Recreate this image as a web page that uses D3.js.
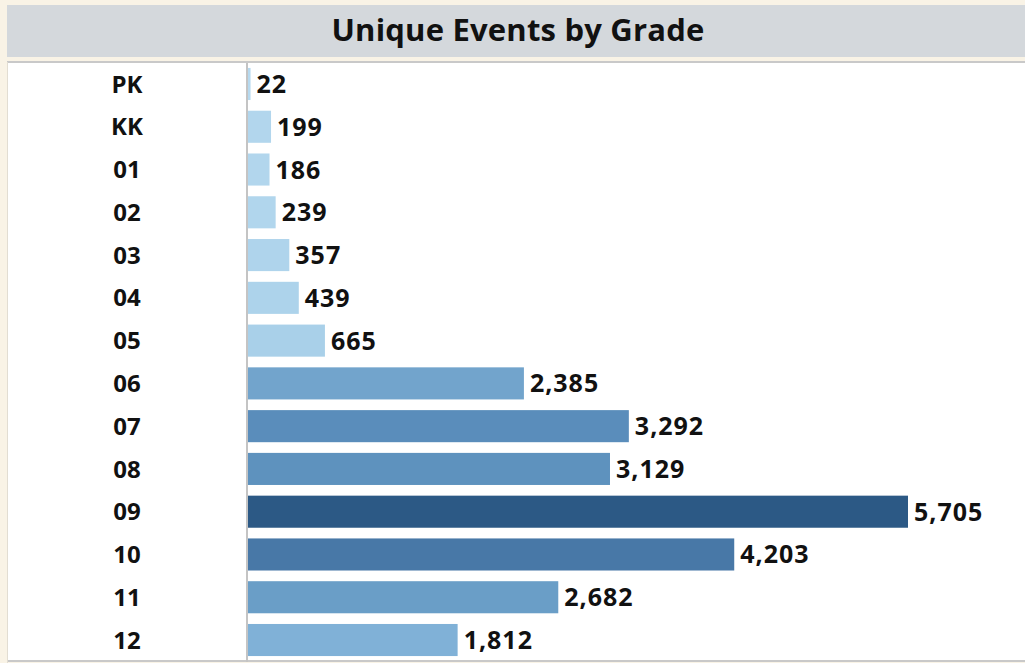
<!DOCTYPE html>
<html>
<head>
<meta charset="utf-8">
<script src="https://cdn.jsdelivr.net/npm/d3@7"></script>
<style>
  body { margin: 0; background: #f9f3e6; }
  text { font-family: "Open Sans", Lato, sans-serif; font-weight: bold; fill: #111; }
</style>
</head>
<body>
<script>
// data
var grades = ["PK", "KK", "01", "02", "03", "04", "05", "06", "07", "08", "09", "10", "11", "12"];
var events = [22, 199, 186, 239, 357, 439, 665, 2385, 3292, 3129, 5705, 4203, 2682, 1812];
var title = "Unique Events by Grade";

var width = 1025, height = 663;

var svg = d3.select("body").append("svg")
    .attr("width", width)
    .attr("height", height);

// cream background
svg.append("rect")
    .attr("width", width).attr("height", height)
    .attr("fill", "#f9f3e6");

// title band
svg.append("rect")
    .attr("x", 7).attr("y", 5)
    .attr("width", width - 7).attr("height", 52)
    .attr("fill", "#d4d8dc");

svg.append("text")
    .attr("x", 518).attr("y", 30)
    .attr("dy", "0.36em")
    .attr("text-anchor", "middle")
    .style("font-size", "31px")
    .style("letter-spacing", "0.2px")
    .text(title);

// white panel
svg.append("rect")
    .attr("x", 7).attr("y", 62)
    .attr("width", width - 7).attr("height", 599)
    .attr("fill", "#fff");

svg.append("line")
    .attr("x1", 7).attr("x2", width)
    .attr("y1", 62).attr("y2", 62)
    .attr("stroke", "#c9c9c9").attr("stroke-width", 2);

svg.append("line")
    .attr("x1", 7).attr("x2", width)
    .attr("y1", 661).attr("y2", 661)
    .attr("stroke", "#c9c9c9").attr("stroke-width", 2);

svg.append("line")
    .attr("x1", 7.5).attr("x2", 7.5)
    .attr("y1", 62).attr("y2", height)
    .attr("stroke", "#e2ddd2").attr("stroke-width", 1);

var x = d3.scaleLinear()
    .domain([0, d3.max(events)])
    .range([248, 908]);

var y = d3.scaleBand()
    .domain(grades)
    .range([62.6, 661.4])
    .paddingInner(0.25)
    .paddingOuter(0.125);

var color = d3.scaleLinear()
    .domain([0, 700, 1812, 2682, 3292, 4203, 5705])
    .range(["#b6d9ef", "#a8cfe9", "#80b1d7", "#6a9ec7", "#5a8dbb", "#4878a7", "#2c5985"]);

var rows = grades.map(function(g, i) { return {grade: g, value: events[i]}; });

svg.append("g")
    .selectAll("rect")
    .data(rows)
    .enter().append("rect")
      .attr("x", x(0))
      .attr("y", function(d) { return y(d.grade); })
      .attr("width", function(d) { return x(d.value) - x(0); })
      .attr("height", y.bandwidth())
      .attr("fill", function(d) { return color(d.value); });

// divider between header column and bars
svg.append("line")
    .attr("x1", 247).attr("x2", 247)
    .attr("y1", 63).attr("y2", 662)
    .attr("stroke", "#c4c4c4").attr("stroke-width", 2);

// grade labels
svg.append("g")
    .selectAll("text")
    .data(rows)
    .enter().append("text")
      .attr("x", 127)
      .attr("y", function(d) { return y(d.grade) + y.bandwidth() / 2; })
      .attr("dy", "0.36em")
      .attr("text-anchor", "middle")
      .style("font-size", "24px")
      .text(function(d) { return d.grade; });

// value labels
var fmt = d3.format(",");
svg.append("g")
    .selectAll("text")
    .data(rows)
    .enter().append("text")
      .attr("x", function(d) { return x(d.value) + 6; })
      .attr("y", function(d) { return y(d.grade) + y.bandwidth() / 2; })
      .attr("dy", "0.36em")
      .style("font-size", "25px")
      .style("letter-spacing", "1px")
      .text(function(d) { return fmt(d.value); });
</script>
</body>
</html>
